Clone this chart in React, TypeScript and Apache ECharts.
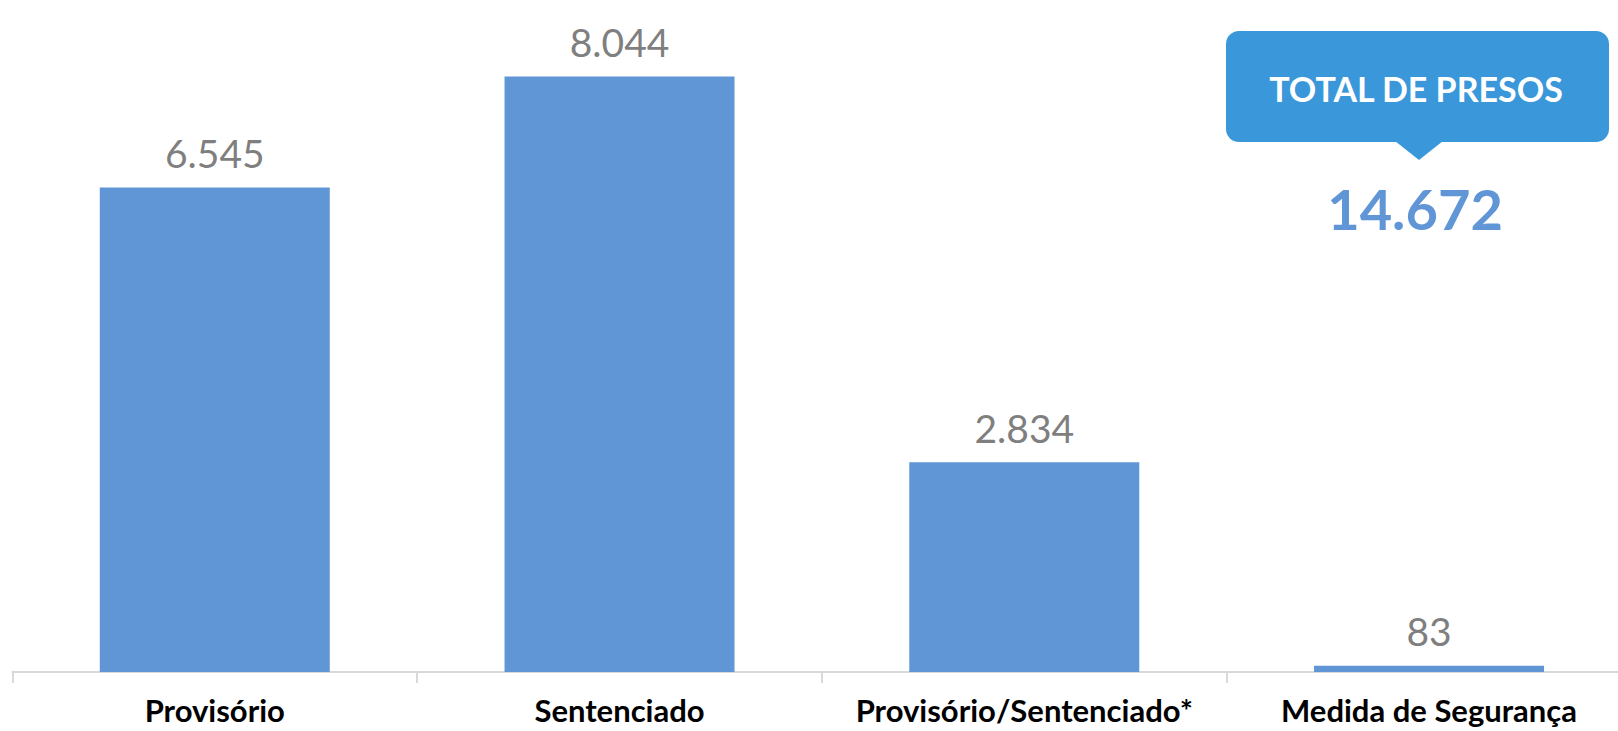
import React, { useEffect, useRef } from "react";
import * as echarts from "echarts";

const categories = [
  "Provisório",
  "Sentenciado",
  "Provisório/Sentenciado*",
  "Medida de Segurança",
];
const presos = [6545, 8044, 2834, 83];
const valueLabels = ["6.545", "8.044", "2.834", "83"];
const calloutTitle = "TOTAL DE PRESOS";
const calloutValue = "14.672";

const BAR = "#6196d6";
const CALLOUT = "#3a97da";
const AXIS = "#d9d9d9";

export default function App() {
  const ref = useRef<HTMLDivElement>(null);

  useEffect(() => {
    document.body.style.margin = "0";
    document.body.style.overflow = "hidden";
    if (!ref.current) return;
    const chart = echarts.init(ref.current, null, { renderer: "svg" });
    chart.setOption({
      animation: false,
      backgroundColor: "#ffffff",
      grid: { left: 12.4, width: 1619, top: 65, bottom: 59, containLabel: false },
      xAxis: {
        type: "category",
        data: categories,
        axisLine: { show: true, lineStyle: { color: AXIS, width: 2 } },
        axisTick: { show: true, length: 11, lineStyle: { color: AXIS, width: 2 } },
        axisLabel: {
          interval: 0,
          margin: 22,
          color: "#000000",
          fontFamily: "Lato",
          fontWeight: "bold",
          fontSize: 31,
        },
      },
      yAxis: {
        type: "value",
        min: 0,
        max: 8200,
        show: false,
        splitLine: { show: false },
      },
      series: [
        {
          type: "bar",
          data: presos,
          barWidth: 230,
          itemStyle: { color: BAR },
          label: {
            show: true,
            position: "top",
            distance: 15,
            color: "#7f7f7f",
            fontFamily: "Lato",
            fontSize: 39,
            formatter: (p: any) => valueLabels[p.dataIndex],
          },
        },
      ],
      graphic: [
        {
          type: "group",
          children: [
            {
              type: "rect",
              shape: { x: 1226, y: 31, width: 383, height: 111, r: 13 },
              style: { fill: CALLOUT },
            },
            {
              type: "polygon",
              shape: { points: [[1395, 141], [1443, 141], [1419, 160]] },
              style: { fill: CALLOUT },
            },
            {
              type: "text",
              x: 1416,
              y: 88,
              style: {
                text: calloutTitle,
                fill: "#ffffff",
                font: "bold 34px Lato",
                align: "center",
                verticalAlign: "middle",
              },
            },
            {
              type: "text",
              x: 1415,
              y: 208,
              style: {
                text: calloutValue,
                fill: BAR,
                font: "bold 56px Lato",
                align: "center",
                verticalAlign: "middle",
              },
            },
          ],
        },
      ],
    });
    return () => chart.dispose();
  }, []);

  return (
    <div
      style={{
        position: "absolute",
        left: 0,
        top: 0,
        width: 1618,
        height: 731,
        overflow: "hidden",
      }}
    >
      <div ref={ref} style={{ width: 1640, height: 731 }} />
    </div>
  );
}
